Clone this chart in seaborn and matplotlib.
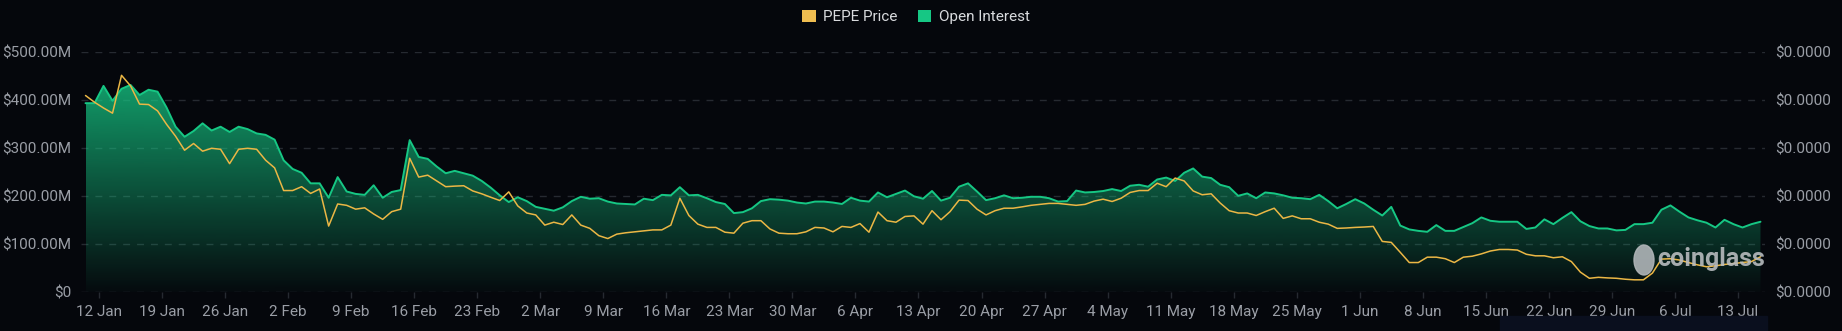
import numpy as np
import pandas as pd
import seaborn as sns
import matplotlib.pyplot as plt
import matplotlib.dates as mdates
from matplotlib.colors import to_rgb
from matplotlib.patches import Patch, Ellipse, Rectangle
from matplotlib.ticker import FuncFormatter, FixedLocator

# open interest, millions of USD, one value per day from 10 Jan 2025 12:00
open_interest = [
    394, 394, 430, 399, 424, 432, 411, 422, 418, 385, 345, 324, 336, 352, 337, 345, 334, 345, 340, 331,
    328, 318, 275, 257, 249, 227, 227, 197, 240, 210, 205, 203, 223, 197, 209, 213, 317, 282, 278, 262,
    248, 253, 248, 243, 232, 218, 202, 188, 198, 190, 178, 174, 170, 177, 190, 199, 195, 196, 189, 185,
    184, 183, 195, 192, 203, 202, 219, 202, 203, 196, 188, 184, 165, 167, 175, 190, 194, 193, 191, 187,
    185, 189, 189, 187, 184, 197, 191, 189, 208, 198, 205, 212, 200, 195, 211, 191, 197, 220, 227, 210,
    192, 196, 202, 196, 197, 199, 199, 196, 189, 190, 212, 208, 209, 211, 215, 211, 222, 224, 220, 235,
    239, 232, 249, 258, 241, 238, 224, 219, 201, 206, 196, 208, 206, 202, 197, 196, 194, 203, 190, 175,
    184, 194, 185, 172, 160, 178, 139, 131, 128, 126, 140, 128, 128, 136, 144, 156, 149, 147, 147, 147,
    132, 135, 152, 142, 155, 167, 148, 138, 133, 133, 129, 130, 142, 142, 145, 172, 181, 168, 156, 150,
    145, 135, 151, 142, 135, 142, 147,
]

# PEPE price, millionths of a USD, same days
pepe_price = [
    19.00, 18.65, 18.35, 18.08, 20.05, 19.50, 18.55, 18.53, 18.20, 17.50, 16.88, 16.15, 16.50, 16.10,
    16.25, 16.20, 15.45, 16.20, 16.25, 16.20, 15.63, 15.23, 14.05, 14.05, 14.25, 13.90, 14.13, 12.20,
    13.35, 13.28, 13.08, 13.15, 12.83, 12.55, 12.95, 13.08, 15.73, 14.75, 14.85, 14.55, 14.25, 14.28,
    14.30, 14.03, 13.88, 13.70, 13.53, 13.98, 13.25, 12.88, 12.78, 12.25, 12.40, 12.28, 12.78, 12.25,
    12.08, 11.70, 11.55, 11.78, 11.85, 11.90, 11.95, 12.00, 12.00, 12.25, 13.65, 12.75, 12.30, 12.13,
    12.13, 11.88, 11.83, 12.35, 12.48, 12.48, 12.05, 11.83, 11.80, 11.80, 11.90, 12.13, 12.10, 11.90,
    12.18, 12.13, 12.33, 11.88, 12.93, 12.48, 12.40, 12.70, 12.73, 12.30, 13.00, 12.53, 12.95, 13.55,
    13.53, 13.08, 12.78, 13.00, 13.13, 13.13, 13.20, 13.28, 13.33, 13.38, 13.38, 13.33, 13.28, 13.33,
    13.50, 13.60, 13.48, 13.65, 13.95, 14.05, 14.05, 14.43, 14.25, 14.70, 14.55, 14.03, 13.83, 13.88,
    13.40, 13.00, 12.88, 12.88, 12.75, 12.95, 13.13, 12.60, 12.73, 12.58, 12.58, 12.40, 12.30, 12.08,
    12.10, 12.13, 12.15, 12.18, 11.40, 11.35, 10.83, 10.30, 10.30, 10.58, 10.58, 10.50, 10.30, 10.58,
    10.63, 10.75, 10.90, 10.98, 10.98, 10.95, 10.73, 10.65, 10.65, 10.55, 10.60, 10.35, 9.80, 9.48,
    9.53, 9.50, 9.48, 9.43, 9.40, 9.40, 9.75, 10.48, 10.50, 10.43, 10.30, 10.18, 10.08, 10.13, 10.20,
    10.25, 10.30, 10.35, 10.60,
]

oi_df = pd.DataFrame({
    "date": pd.date_range("2025-01-10 12:00", periods=len(open_interest), freq="D"),
    "oi": open_interest,
})
price_df = pd.DataFrame({
    "date": pd.date_range("2025-01-10 12:00", periods=len(pepe_price), freq="D"),
    "price": np.array(pepe_price) * 1e-6,
})

bg = "#05070c"
green = "#16c784"
yellow = "#ebb745"
grid_c = "#262a31"
label_c = "#9a9ea6"

sns.set_theme(style="dark", rc={
    "figure.facecolor": bg, "axes.facecolor": bg, "savefig.facecolor": bg,
    "axes.edgecolor": bg, "text.color": label_c,
})
plt.rcParams["font.family"] = ["Roboto", "DejaVu Sans"]

fig = plt.figure(figsize=(18.42, 3.31), dpi=100)
ax = fig.add_axes([81 / 1842, 1 - 292.3 / 331, (1765 - 81) / 1842, 240 / 331])
ax2 = ax.twinx()

x = mdates.date2num(oi_df["date"])

# gradient fill under the open interest line
grad = np.zeros((256, 1, 4))
grad[:, 0, :3] = to_rgb(green)
grad[:, 0, 3] = np.linspace(0.02, 0.8, 256)
im = ax.imshow(grad, aspect="auto", origin="lower", extent=[x[0], x[-1], 0, 450], zorder=1)
poly = ax.fill_between(x, oi_df["oi"], 0, color="none", lw=0)
im.set_clip_path(poly.get_paths()[0], transform=ax.transData)

sns.lineplot(data=oi_df, x="date", y="oi", ax=ax, color=green, lw=1.4, zorder=3)
sns.lineplot(data=price_df, x="date", y="price", ax=ax2, color=yellow, lw=1.1, zorder=3)

xmin, xmax = mdates.date2num(pd.Timestamp("2025-01-10")), mdates.date2num(pd.Timestamp("2025-07-16"))
ax.set_xlim(xmin, xmax)
ax.set_ylim(0, 500)
ax2.set_ylim(8.75e-6, 21.25e-6)

ax.set_yticks([0, 100, 200, 300, 400, 500])
ax.yaxis.set_major_formatter(FuncFormatter(lambda v, p: "$0" if v == 0 else f"${v:.2f}M"))
ax2.yaxis.set_major_locator(FixedLocator([8.75e-6 + k * 2.5e-6 for k in range(6)]))
ax2.yaxis.set_major_formatter(FuncFormatter(lambda v, p: f"${v:.4f}"))

ticks = pd.date_range("2025-01-12", "2025-07-13", freq="7D")
ax.xaxis.set_major_locator(FixedLocator(mdates.date2num(ticks)))
ax.xaxis.set_major_formatter(mdates.DateFormatter("%-d %b"))

ax.grid(axis="y", color=grid_c, ls=(0, (5, 5)), lw=1)
ax.grid(axis="x", visible=False)
ax2.grid(False)
ax.set_xlabel("")
ax.set_ylabel("")
ax2.set_ylabel("")
for a in (ax, ax2):
    for s in a.spines.values():
        s.set_visible(False)

ax.tick_params(axis="x", colors=grid_c, labelcolor=label_c, labelsize=11, length=4, width=1, pad=5, direction="out", bottom=True)
ax.tick_params(axis="y", labelcolor=label_c, labelsize=11, length=0, pad=7)
ax2.tick_params(axis="y", labelcolor=label_c, labelsize=11, length=0, pad=7)

# watermark
fig.patches.append(Ellipse((1644 / 1842, 1 - 260 / 331), 20 / 1842, 30 / 331, transform=fig.transFigure,
                           color="#b0b5b8", alpha=0.9, zorder=5))
fig.text(1657 / 1842, 1 - 259 / 331, "coinglass", color="#b8bcbf", fontsize=18, fontweight="bold",
         ha="left", va="center", alpha=0.9, zorder=5)
fig.patches.append(Rectangle((1500 / 1842, 0), 267 / 1842, 15 / 331, transform=fig.transFigure,
                             color="#0a0f1e", zorder=0))

handles = [Patch(facecolor="#efbd50", edgecolor="none", label="PEPE Price"),
           Patch(facecolor=green, edgecolor="none", label="Open Interest")]
fig.legend(handles=handles, loc="center", bbox_to_anchor=(916 / 1842, 1 - 17 / 331), ncol=2, frameon=False,
           handlelength=0.9, handleheight=0.9, handletextpad=0.5, columnspacing=1.3,
           fontsize=11, labelcolor="#d8dadd")

fig.savefig("out.png", dpi=100, facecolor=bg)
